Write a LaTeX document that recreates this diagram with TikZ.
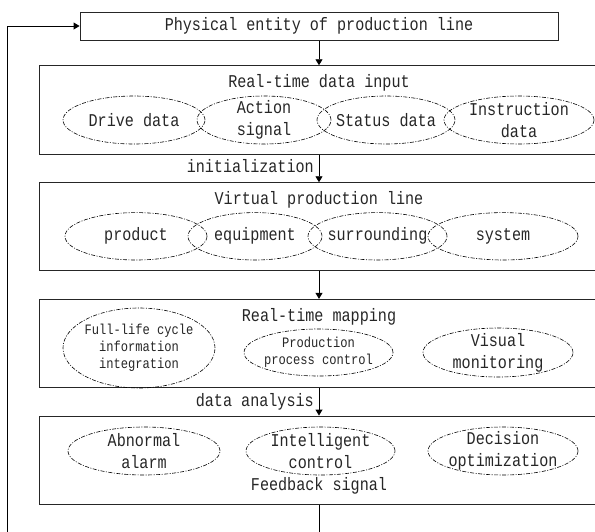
\documentclass[tikz,border=0pt]{standalone}
\usepackage{fontspec}
\usepackage{tikz}
\usetikzlibrary{shapes.geometric,arrows.meta}
\newfontfamily\diagfont[FakeStretch=0.84]{Liberation Mono}
\pgfdeclarelayer{edgelayer}
\pgfdeclarelayer{nodelayer}
\pgfsetlayers{edgelayer,nodelayer,main}
\tikzstyle{none}=[inner sep=0pt]
\tikzstyle{Plain Box}=[draw=black!85, line width=0.9pt, shape=rectangle, inner sep=0pt, text=black!85, font=\diagfont\fontsize{18}{22}\selectfont]
\tikzstyle{Dashdot Ellipse}=[draw=black, line width=0.6pt, shape=ellipse, inner sep=-14pt, align=center, text=black!85, dash pattern=on 4pt off 1.5pt on 1pt off 1.5pt, font=\diagfont\fontsize{18}{22}\selectfont]
\tikzstyle{Small Ellipse}=[style=Dashdot Ellipse, font=\diagfont\fontsize{14.4}{17.2}\selectfont]
\tikzstyle{Label}=[inner sep=0pt, text=black!85, font=\diagfont\fontsize{18}{22}\selectfont]
\tikzstyle{Arrow}=[-{Triangle[width=7pt,length=6pt]}, draw=black, line width=0.9pt]

\begin{document}
\begin{tikzpicture}[x=1pt,y=-1pt]
	\useasboundingbox (0,0) rectangle (595,531);
	\clip (0,0) rectangle (595,531);
	\begin{pgfonlayer}{nodelayer}
		\node [style=Plain Box, minimum width=478, minimum height=28] (0) at (319, 26) {Physical entity of production line};
		\node [style=Plain Box, minimum width=560, minimum height=88.3] (1) at (319, 109.85) {};
		\node [style=Plain Box, minimum width=560, minimum height=87.3] (2) at (319, 226.35) {};
		\node [style=Plain Box, minimum width=560, minimum height=88.4] (3) at (319, 343.5) {};
		\node [style=Plain Box, minimum width=560, minimum height=88] (4) at (319, 460) {};
		\node [style=Label] (5) at (319, 83) {Real-time data input};
		\node [style=Label] (6) at (319, 200) {Virtual production line};
		\node [style=Label] (7) at (319, 316.7) {Real-time mapping};
		\node [style=Label] (8) at (319, 485.7) {Feedback signal};
		\node [style=Dashdot Ellipse, minimum width=142, minimum height=48] (9) at (134, 120) {Drive data};
		\node [style=Dashdot Ellipse, minimum width=134, minimum height=48] (10) at (264, 120) {Action\\signal};
		\node [style=Dashdot Ellipse, minimum width=138, minimum height=48] (11) at (386, 120) {Status data};
		\node [style=Dashdot Ellipse, minimum width=150, minimum height=48] (12) at (519, 120) {Instruction\\data};
		\node [style=Dashdot Ellipse, minimum width=142, minimum height=47.4] (13) at (136, 236.3) {product};
		\node [style=Dashdot Ellipse, minimum width=134, minimum height=47.4] (14) at (255, 236.3) {equipment};
		\node [style=Dashdot Ellipse, minimum width=139, minimum height=47.4] (15) at (377.5, 236.3) {surrounding};
		\node [style=Dashdot Ellipse, minimum width=150, minimum height=47.4] (16) at (503, 236.3) {system};
		\node [style=Small Ellipse, minimum width=152, minimum height=80] (17) at (139, 348) {Full-life cycle\\information\\integration};
		\node [style=Small Ellipse, minimum width=149, minimum height=47] (18) at (318.5, 352.5) {Production\\process control};
		\node [style=Dashdot Ellipse, minimum width=150, minimum height=49] (19) at (498, 352.5) {Visual\\monitoring};
		\node [style=Dashdot Ellipse, minimum width=152, minimum height=48] (20) at (144, 451) {Abnormal\\alarm};
		\node [style=Dashdot Ellipse, minimum width=149, minimum height=48] (21) at (320.5, 451) {Intelligent\\control};
		\node [style=Dashdot Ellipse, minimum width=150, minimum height=48] (22) at (503, 451) {Decision\\optimization};
		\node [style=Label, anchor=east] (23) at (314, 166) {initialization};
		\node [style=Label, anchor=east] (24) at (314, 401.7) {data analysis};
		\node [style=none] (25) at (319, 545) {};
		\node [style=none] (26) at (7.7, 545) {};
		\node [style=none] (27) at (7.7, 26) {};
	\end{pgfonlayer}
	\begin{pgfonlayer}{edgelayer}
		\draw [style=Arrow] (0) to (1);
		\draw [style=Arrow] (1) to (2);
		\draw [style=Arrow] (2) to (3);
		\draw [style=Arrow] (3) to (4);
		\draw [style=Arrow] (4.south) -- (25.center) -- (26.center) -- (27.center) -- (0.west);
	\end{pgfonlayer}
\end{tikzpicture}
\end{document}
